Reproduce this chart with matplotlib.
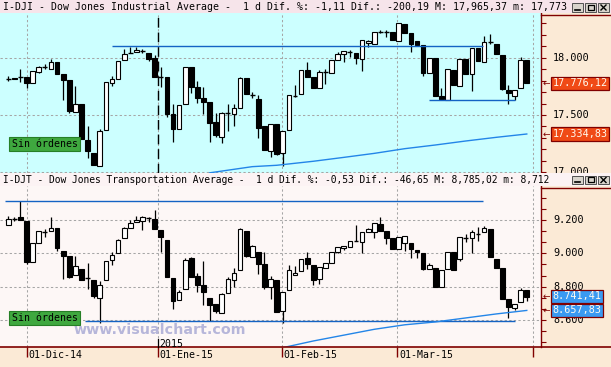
import matplotlib
matplotlib.use('Agg')
import matplotlib.pyplot as plt
import matplotlib.transforms as mtransforms
import numpy as np
from matplotlib.patches import Rectangle

W, H, DPI = 611, 367, 100

DARK_RED = '#800000'
CYAN = '#ccffff'
PEACH = '#fbead6'
PANEL_WHITE = '#fdf7f6'
TITLE_PINK = '#f6e4ea'
TITLE_WHITE = '#fcf3f4'
GRID = '#a6a6a6'
LINE_BLUE = '#1463c4'
MA_BLUE = '#2385e8'
GREEN = '#3fa83f'

plt.rcParams['font.family'] = ['DejaVu Sans Mono', 'DejaVu Sans']

# ---------------- data ----------------
date_ticks = [3, 24.5, 44.8, 63.8, 86]
date_labels = ['01-Dic-14', '01-Ene-15', '01-Feb-15', '01-Mar-15', '']
year_sep = 24.5
year_label = '2015'

dji_title = ('I-DJI - Dow Jones Industrial Average -  1 d Dif. %: -1,11 '
             'Dif.: -200,19 M: 17,965,37 m: 17,773')
djt_title = ('I-DJT - Dow Jones Transportation Average -  1 d Dif. %: -0,53 '
             'Dif.: -46,65 M: 8,785,02 m: 8,712')

dji_open = [17817, 17823, 17834, 17829, 17782, 17878, 17922, 17904, 17962, 17858,
            17805, 17529, 17593, 17282, 17168, 17058, 17366, 17782, 17817, 17977,
            18044, 18047, 18056, 18041, 17994, 17834, 17832, 17506, 17375, 17593,
            17916, 17744, 17648, 17613, 17439, 17311, 17514, 17506, 17558, 17820,
            17674, 17640, 17404, 17186, 17418, 17165, 17366, 17666, 17680, 17890,
            17829, 17738, 17872, 17864, 17977, 18032, 18050, 18041, 17992, 18125,
            18117, 18224, 18224, 18224, 18146, 18291, 18213, 18149, 18111, 17869,
            18000, 17666, 17631, 17893, 17753, 17986, 17855, 18082, 17965, 18134,
            18120, 18024, 17718, 17666, 17733, 17980]
dji_high = [17840, 17826, 17898, 17829, 17884, 17928, 17942, 17986, 17965, 17858,
            17805, 17753, 17593, 17404, 17168, 17381, 17788, 17840, 17968, 18073,
            18096, 18096, 18073, 18041, 18024, 17922, 17832, 17593, 17584, 17916,
            17916, 17797, 17747, 17613, 17514, 17529, 17593, 17593, 17834, 17820,
            17704, 17674, 17404, 17418, 17418, 17360, 17672, 17762, 17890, 17962,
            17829, 17893, 17898, 17977, 18050, 18056, 18067, 18041, 18154, 18154,
            18224, 18242, 18242, 18224, 18300, 18291, 18213, 18149, 18111, 18000,
            18000, 17733, 17898, 17893, 17986, 17986, 18082, 18082, 18192, 18207,
            18120, 18024, 17762, 17718, 18003, 17980]
dji_low = [17797, 17811, 17791, 17738, 17782, 17864, 17905, 17904, 17855, 17631,
           17514, 17529, 17288, 17122, 17064, 17058, 17366, 17756, 17817, 17977,
           18038, 18047, 18038, 17974, 17834, 17747, 17485, 17267, 17375, 17593,
           17695, 17602, 17506, 17267, 17311, 17253, 17360, 17404, 17558, 17680,
           17645, 17296, 17194, 17136, 17150, 17055, 17366, 17654, 17680, 17834,
           17738, 17738, 17768, 17864, 17977, 17965, 18009, 17942, 17884, 18096,
           18117, 18213, 18178, 18154, 18146, 18218, 18047, 18111, 17840, 17869,
           17666, 17631, 17631, 17759, 17753, 17855, 17709, 17971, 17965, 18117,
           18029, 17718, 17593, 17631, 17733, 17776]
dji_close = [17817, 17814, 17834, 17782, 17884, 17916, 17922, 17965, 17861, 17805,
             17538, 17593, 17288, 17183, 17064, 17360, 17788, 17814, 17968, 18035,
             18044, 18067, 18056, 17989, 17834, 17834, 17506, 17375, 17584, 17916,
             17747, 17651, 17616, 17433, 17328, 17514, 17514, 17558, 17820, 17680,
             17674, 17389, 17194, 17418, 17162, 17360, 17672, 17666, 17890, 17834,
             17738, 17875, 17872, 17977, 18035, 18056, 18050, 18000, 18154, 18149,
             18224, 18224, 18224, 18154, 18300, 18218, 18117, 18111, 17869, 18000,
             17666, 17637, 17898, 17759, 17986, 17861, 18082, 17971, 18134, 18134,
             18029, 17730, 17689, 17718, 17980, 17776]

djt_open = [9169, 9205, 9215, 9193, 8949, 9059, 9125, 9133, 9149, 9011,
            8983, 8869, 8909, 8855, 8843, 8735, 8839, 8957, 8999, 9093,
            9149, 9185, 9193, 9209, 9203, 9139, 9079, 8855, 8723, 8789,
            8969, 8863, 8809, 8735, 8695, 8645, 8765, 8839, 8903, 9133,
            8979, 9009, 8937, 8799, 8839, 8655, 8783, 8869, 8893, 8969,
            8927, 8849, 8915, 8939, 9009, 9029, 9039, 9075, 9069, 9129,
            9125, 9175, 9133, 9089, 9025, 9063, 9063, 9019, 8999, 8905,
            8913, 8799, 8905, 9005, 8963, 9093, 9089, 9115, 9125, 9145,
            8963, 8913, 8725, 8673, 8709, 8783]
djt_high = [9225, 9215, 9313, 9193, 9059, 9133, 9143, 9215, 9149, 9011,
            8983, 8985, 8909, 8939, 8843, 8833, 8953, 9009, 9083, 9159,
            9199, 9225, 9225, 9215, 9259, 9139, 9079, 8855, 8783, 8973,
            8979, 8885, 8953, 8735, 8695, 8763, 8859, 8913, 9149, 9133,
            9049, 9009, 9009, 8863, 8839, 8769, 8929, 8925, 8963, 9005,
            8927, 8917, 8939, 9009, 9035, 9045, 9075, 9169, 9129, 9153,
            9179, 9215, 9133, 9089, 9099, 9101, 9063, 9019, 8999, 8939,
            8913, 8899, 9009, 9005, 9095, 9113, 9139, 9159, 9165, 9145,
            8963, 8913, 8725, 8699, 8795, 8783]
djt_low = [9169, 9193, 9199, 8933, 8949, 9059, 9099, 9133, 9013, 8849,
           8850, 8869, 8843, 8789, 8735, 8585, 8839, 8929, 8999, 9093,
           9149, 9185, 9139, 9189, 9143, 9009, 8859, 8669, 8723, 8789,
           8859, 8769, 8693, 8593, 8645, 8645, 8765, 8799, 8903, 8975,
           8979, 8879, 8785, 8729, 8649, 8585, 8783, 8869, 8893, 8909,
           8809, 8815, 8915, 8939, 8999, 9019, 9039, 9075, 8999, 9129,
           9093, 9135, 9053, 9025, 9025, 9013, 8969, 8969, 8899, 8905,
           8799, 8799, 8905, 8899, 8955, 9069, 8999, 9073, 9125, 8975,
           8913, 8729, 8613, 8659, 8709, 8713]
djt_close = [9205, 9205, 9199, 8949, 9059, 9133, 9125, 9149, 9033, 8985,
             8859, 8925, 8843, 8855, 8745, 8813, 8953, 8987, 9077, 9149,
             9179, 9197, 9215, 9209, 9143, 9099, 8859, 8715, 8769, 8959,
             8859, 8809, 8769, 8693, 8655, 8759, 8849, 8885, 9143, 8983,
             9045, 8933, 8799, 8849, 8649, 8769, 8903, 8885, 8963, 8935,
             8843, 8917, 8939, 9009, 9035, 9045, 9075, 9075, 9129, 9145,
             9179, 9135, 9089, 9025, 9099, 9101, 9023, 9005, 8909, 8929,
             8799, 8899, 9009, 8899, 9095, 9093, 9129, 9115, 9149, 8975,
             8913, 8729, 8679, 8699, 8783, 8741]

# moving averages (read at a few candles)
dji_ma_idx = [33, 40, 44, 50, 55, 60, 65, 70, 75, 80, 85]
dji_ma = [16995, 17049, 17061, 17096, 17130, 17165, 17206, 17238, 17273, 17305, 17334]
djt_ma_idx = [45, 50, 55, 60, 65, 70, 75, 80, 85]
djt_ma = [8435, 8475, 8510, 8545, 8572, 8589, 8613, 8637, 8658]

# drawn trend lines: (level, start index, end index)
dji_levels = [(18102, 17, 77.8), (17631, 69, 83)]
djt_levels = [(9315, -0.5, 77.8), (8595, 12.6, 83)]

# last values shown on the right scale
dji_tags = [17776.12, 17334.83]
djt_tags = [8741.41, 8657.83]

dji_major = [17000, 17500, 18000]
djt_major = [8600, 8800, 9000, 9200]

XLIM = (-1.36, 87.33)
DJI_YLIM = (16998, 18390)
DJT_YLIM = (8439, 9403)

TOP_PANEL = (13, 172.5)
BOTTOM_PANEL = (186, 347)
PLOT_RIGHT = 541


def euro(v, dec=0):
    s = f"{v:,.{dec}f}"
    return s.replace(',', '_').replace('.', ',').replace('_', '.')


def px_axes(fig, x0, y0, x1, y1):
    return fig.add_axes([x0 / W, 1 - y1 / H, (x1 - x0) / W, (y1 - y0) / H])


def draw_candles(ax, opens, highs, lows, closes):
    for i, (o, h, l, c) in enumerate(zip(opens, highs, lows, closes)):
        ax.vlines(i, l, h, color='black', lw=0.9, zorder=3)
        if o == c:
            ax.hlines(o, i - 0.4, i + 0.4, color='black', lw=1.0, zorder=4)
        else:
            ax.bar(i, abs(c - o), bottom=min(o, c), width=0.78,
                   color='white' if c > o else 'black', edgecolor='black',
                   lw=0.8, zorder=4)


def setup_panel(fig, ax, panel, bg, ylim, major, minor, opens, highs, lows, closes,
                levels, ma_idx, ma_vals, tags, tag_color):
    ax.set_facecolor(bg)
    ax.set_xlim(*XLIM)
    ax.set_ylim(*ylim)
    for side in ['left', 'top', 'bottom']:
        ax.spines[side].set_visible(False)
    ax.spines['right'].set_color(DARK_RED)
    ax.spines['right'].set_linewidth(1.0)

    ax.yaxis.tick_right()
    ax.set_yticks(major)
    ax.set_yticks(minor, minor=True)
    ax.tick_params(axis='y', which='both', direction='out', length=3.8, width=0.8,
                   color=DARK_RED, labelright=False)

    # scale labels, clipped to the panel's own band (the title bar hides the rest)
    y0, y1 = panel
    band = mtransforms.TransformedBbox(
        mtransforms.Bbox([[PLOT_RIGHT / W, 1 - y1 / H], [1, 1 - y0 / H]]), fig.transFigure)
    trans = mtransforms.blended_transform_factory(fig.transFigure, ax.transData)
    for v in major:
        t = ax.text(553 / W, v, euro(v), transform=trans, fontsize=7.3, color='black',
                    va='center', ha='left')
        t.set_clip_box(band)
        t.set_clip_on(True)

    ax.set_xticks(date_ticks)
    ax.grid(True, color=GRID, lw=0.75, ls=(0, (2.2, 2.2)))
    ax.set_axisbelow(True)

    for level, x0, x1 in levels:
        ax.hlines(level, x0, x1, color=LINE_BLUE, lw=1.0, zorder=5)
    ax.plot(ma_idx, ma_vals, color=MA_BLUE, lw=1.0, zorder=5)

    draw_candles(ax, opens, highs, lows, closes)

    for v in tags:
        ax.text(552.5 / W, v, euro(v, 2), transform=trans, fontsize=7.3,
                color='#fffaf0', va='center', ha='left', zorder=10,
                bbox=dict(boxstyle='square,pad=0.18', fc=tag_color, ec=DARK_RED, lw=0.9))
        ax.text(542.5 / W, v, '\u2190', transform=trans, fontsize=6.5,
                color=DARK_RED, va='center', ha='left', family='DejaVu Sans')


def window_buttons(ov, y0):
    # minimise / maximise / close icons drawn as shapes
    for bx in [572, 585, 598]:
        ov.add_patch(Rectangle((bx, y0 + 3), 11, 8.5, fc='#d8d4cc', ec='#505050',
                               lw=0.7, zorder=4))
    ov.plot([575, 580], [y0 + 9.5, y0 + 9.5], color='black', lw=1.2, zorder=5)
    ov.add_patch(Rectangle((587.5, y0 + 4.8), 6, 5, fc='none', ec='black', lw=0.9,
                           zorder=5))
    ov.plot([601, 606], [y0 + 5, y0 + 10], color='black', lw=1.0, zorder=5)
    ov.plot([601, 606], [y0 + 10, y0 + 5], color='black', lw=1.0, zorder=5)


fig = plt.figure(figsize=(W / DPI, H / DPI), dpi=DPI, facecolor=PEACH)

ax1 = px_axes(fig, 0, TOP_PANEL[0], PLOT_RIGHT, TOP_PANEL[1])
ax2 = px_axes(fig, 0, BOTTOM_PANEL[0], PLOT_RIGHT, BOTTOM_PANEL[1])

setup_panel(fig, ax1, TOP_PANEL, CYAN, DJI_YLIM, dji_major, np.arange(17000, 18400, 100),
            dji_open, dji_high, dji_low, dji_close, dji_levels,
            dji_ma_idx, dji_ma, dji_tags, '#f04a16')
setup_panel(fig, ax2, BOTTOM_PANEL, PANEL_WHITE, DJT_YLIM, djt_major,
            np.arange(8466.67, 9400, 200 / 3), djt_open, djt_high, djt_low,
            djt_close, djt_levels, djt_ma_idx, djt_ma, djt_tags, '#3a9af2')

ax1.tick_params(axis='x', length=0, labelbottom=False)
ax1.axvline(year_sep, color='black', lw=1.0, ls=(0, (7, 3.5)), zorder=2)
ax2.tick_params(axis='x', direction='out', length=7.2, width=1.0, color=DARK_RED,
                labelbottom=False)

# overlay in pixel coordinates (y from top)
ov = fig.add_axes([0, 0, 1, 1])
ov.set_xlim(0, W)
ov.set_ylim(H, 0)
ov.axis('off')
ov.set_zorder(5)
ov.patch.set_alpha(0)

# title bars
for y0, h, bg, text, size in [(0, 13, TITLE_PINK, dji_title, 7.1),
                              (172.5, 13.5, TITLE_WHITE, djt_title, 6.95)]:
    ov.add_patch(Rectangle((0, y0), W, h, fc=bg, ec='none', zorder=1))
    ov.text(3, y0 + h / 2 + 0.5, text, fontsize=size, color='black', va='center',
            ha='left', zorder=2)
    window_buttons(ov, y0)

# right scale frames
ov.plot([PLOT_RIGHT, W], [15, 15], color=DARK_RED, lw=1.0, zorder=2)
ov.plot([PLOT_RIGHT, W], [188, 188], color=DARK_RED, lw=1.0, zorder=2)
# time axis line
ov.plot([0, W], [BOTTOM_PANEL[1], BOTTOM_PANEL[1]], color=DARK_RED, lw=1.2, zorder=2)

# "Sin ordenes" boxes
for y0 in [137, 311]:
    ov.add_patch(Rectangle((9, y0), 71, 13.5, fc=GREEN, ec='#267f26', lw=0.8, zorder=2))
    ov.text(12, y0 + 7, 'Sin órdenes', fontsize=7.1, color='black', va='center',
            ha='left', zorder=3)

# watermark
ov.text(160, 330.5, 'www.visualchart.com', fontsize=10.3, fontweight='bold',
        family='DejaVu Sans', color='#b6b6da', ha='center', va='center', zorder=1)

# date labels and year marker
date_trans = mtransforms.blended_transform_factory(ax2.transData, ov.transData)
shift = mtransforms.ScaledTranslation(2 / DPI, 0, fig.dpi_scale_trans)
for x, lab in zip(date_ticks, date_labels):
    ov.text(x, 355.5, lab, transform=date_trans + shift, fontsize=7.1,
            color='black', ha='left', va='center', zorder=3)
ov.plot([year_sep, year_sep], [339, 347], transform=date_trans, color='black',
        lw=0.9, zorder=3)
ov.text(year_sep, 344.3, year_label, transform=date_trans + shift, fontsize=7.1,
        color='black', ha='left', va='center', zorder=3)

fig.savefig('out.png', dpi=DPI, facecolor=PEACH)
